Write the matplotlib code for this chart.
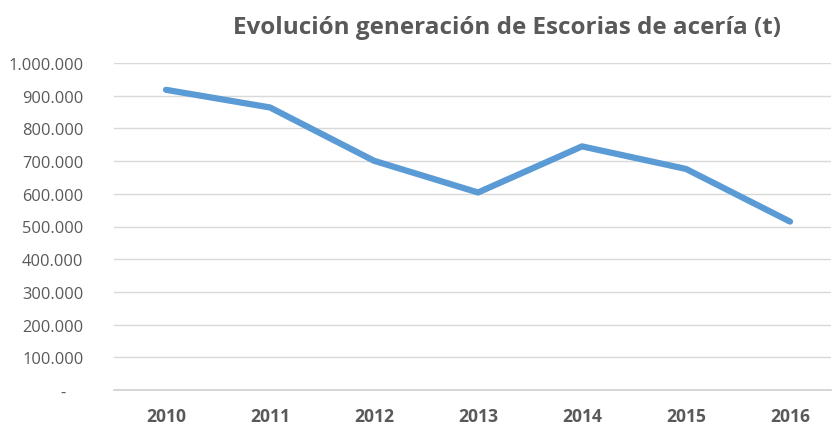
import matplotlib
matplotlib.use("Agg")
import matplotlib.pyplot as plt
from matplotlib.ticker import FuncFormatter, MultipleLocator

years = ["2010", "2011", "2012", "2013", "2014", "2015", "2016"]
escorias = [918000, 864000, 701000, 604000, 745000, 676000, 515000]
title = "Evolución generación de Escorias de acería (t)"

plt.rcParams['font.family'] = ['Open Sans', 'DejaVu Sans']
txt = '#595959'

fig = plt.figure(figsize=(8.36, 4.27), dpi=100)
ax = fig.add_axes([114/836, (427-391)/427, (831-114)/836, (391-64)/427])
x = list(range(len(years)))
ax.plot(x, escorias, color='#5B9BD5', linewidth=4.5, solid_capstyle='round', solid_joinstyle='round', zorder=3)
ax.set_xlim(-0.5, 6.394)
ax.set_ylim(0, 1000000)
ax.yaxis.set_major_locator(MultipleLocator(100000))

def fmt(v, pos):
    if abs(v) < 1:
        return '-    '
    return f"{int(round(v)):,}".replace(',', '.')
ax.yaxis.set_major_formatter(FuncFormatter(fmt))
ax.set_xticks(x)
ax.set_xticklabels(years, fontweight='bold')
ax.grid(axis='y', color='#D9D9D9', linewidth=1)
ax.set_axisbelow(True)
for s in ['left', 'right', 'top']:
    ax.spines[s].set_visible(False)
ax.spines['bottom'].set_color('#D0D0D0')
ax.spines['bottom'].set_linewidth(1.2)
ax.tick_params(axis='both', length=0, colors=txt)
ax.tick_params(axis='y', pad=22, labelsize=11.8)
ax.tick_params(axis='x', pad=12, labelsize=12.6)
fig.text(0.607, 0.935, title, ha='center', va='center', fontsize=17.5, fontweight='bold', color=txt)
fig.savefig('out.png', dpi=100)
